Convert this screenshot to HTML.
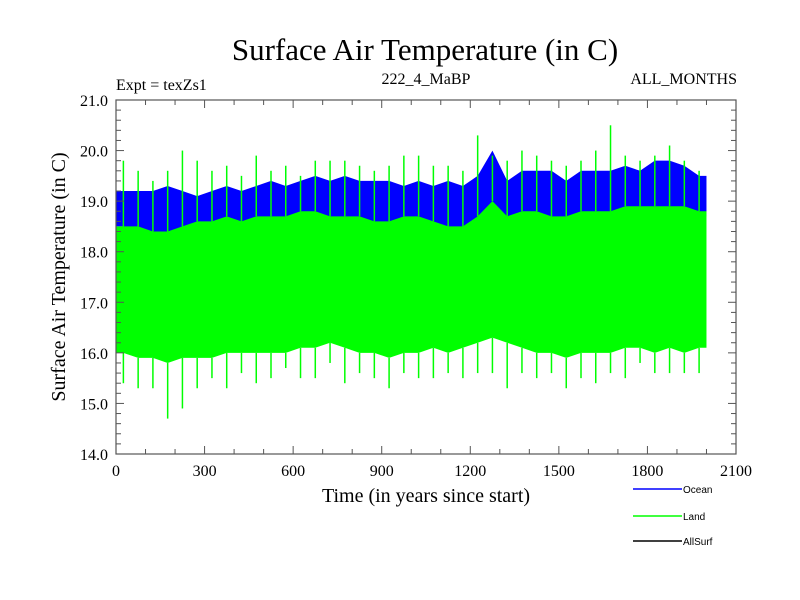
<!DOCTYPE html>
<html><head><meta charset="utf-8"><style>
body{margin:0;background:#fff}
svg{display:block}
.s{font-family:"Liberation Serif",serif}
.a{font-family:"Liberation Sans",sans-serif}
</style></head><body>
<svg id="c" width="800" height="600" xmlns="http://www.w3.org/2000/svg">
<rect width="800" height="600" fill="#fff"/>
<text class="s" x="425" y="60" font-size="31" text-anchor="middle">Surface Air Temperature (in C)</text>
<text class="s" x="116" y="90" font-size="16">Expt = texZs1</text>
<text class="s" x="426" y="84" font-size="16" text-anchor="middle">222_4_MaBP</text>
<text class="s" x="737" y="84" font-size="16" text-anchor="end">ALL_MONTHS</text>
<text class="s" font-size="20" text-anchor="middle" transform="translate(65,277) rotate(-90)">Surface Air Temperature (in C)</text>
<text class="s" x="426" y="502" font-size="20" text-anchor="middle">Time (in years since start)</text>
<g id="plot"></g>
<g id="axes"></g>
<g>
<line x1="633" y1="489" x2="682" y2="489" stroke="#0000ff" stroke-width="1.5"/>
<text class="a" x="683" y="493" font-size="10">Ocean</text>
<line x1="633" y1="516" x2="682" y2="516" stroke="#00ff00" stroke-width="1.5"/>
<text class="a" x="683" y="520" font-size="10">Land</text>
<line x1="633" y1="541" x2="682" y2="541" stroke="#000" stroke-width="1.5"/>
<text class="a" x="683" y="545" font-size="10">AllSurf</text>
</g>
</svg>
<script>
const binYears=[0,50,100,150,200,250,300,350,400,450,500,550,600,650,700,750,800,850,900,950,1000,1050,1100,1150,1200,1250,1300,1350,1400,1450,1500,1550,1600,1650,1700,1750,1800,1850,1900,1950];
const oceanHi=[19.2,19.2,19.2,19.3,19.2,19.1,19.2,19.3,19.2,19.3,19.4,19.3,19.4,19.5,19.4,19.5,19.4,19.4,19.4,19.3,19.4,19.3,19.4,19.3,19.5,20.0,19.4,19.6,19.6,19.6,19.4,19.6,19.6,19.6,19.7,19.6,19.8,19.8,19.7,19.5];
const oceanLo=[18.5,18.3,18.3,18.4,18.3,18.5,18.5,18.6,18.5,18.6,18.6,18.6,18.6,18.7,18.6,18.6,18.6,18.5,18.5,18.5,18.5,18.5,18.4,18.3,18.6,18.8,18.6,18.7,18.7,18.6,18.6,18.7,18.7,18.7,18.8,18.8,18.8,18.8,18.8,18.7];
const landHi=[18.5,18.5,18.4,18.4,18.5,18.6,18.6,18.7,18.6,18.7,18.7,18.7,18.8,18.8,18.7,18.7,18.7,18.6,18.6,18.7,18.7,18.6,18.5,18.5,18.7,19.0,18.7,18.8,18.8,18.7,18.7,18.8,18.8,18.8,18.9,18.9,18.9,18.9,18.9,18.8];
const landLo=[16.0,15.9,15.9,15.8,15.9,15.9,15.9,16.0,16.0,16.0,16.0,16.0,16.1,16.1,16.2,16.1,16.0,16.0,15.9,16.0,16.0,16.1,16.0,16.1,16.2,16.3,16.2,16.1,16.0,16.0,15.9,16.0,16.0,16.0,16.1,16.1,16.0,16.1,16.0,16.1];
const landMax=[19.8,19.6,19.4,19.6,20.0,19.8,19.6,19.7,19.5,19.9,19.6,19.7,19.5,19.8,19.8,19.8,19.7,19.6,19.7,19.9,19.9,19.7,19.7,19.6,20.3,19.9,19.8,20.0,19.9,19.8,19.7,19.8,20.0,20.5,19.9,19.8,19.9,20.1,19.8,19.6];
const landMin=[15.4,15.3,15.3,14.7,14.9,15.3,15.5,15.3,15.6,15.4,15.5,15.7,15.5,15.5,15.8,15.4,15.6,15.5,15.3,15.6,15.5,15.5,15.6,15.5,15.6,15.6,15.3,15.6,15.5,15.6,15.3,15.5,15.4,15.6,15.5,15.8,15.6,15.6,15.6,15.6];
const yTicks=[14,15,16,17,18,19,20,21];
const xTicks=[0,300,600,900,1200,1500,1800,2100];
const lastYear=2000;
const X=v=>116+v*620/2100, Y=v=>454-(v-14)*354/7;
const NS="http://www.w3.org/2000/svg";
const plot=document.getElementById('plot'), axes=document.getElementById('axes');
function mk(tag,attrs,parent){const e=document.createElementNS(NS,tag);for(const k in attrs)e.setAttribute(k,attrs[k]);parent.appendChild(e);return e;}
function band(hi,lo,color,name){
  const n=hi.length;
  const cx=i=>X(Math.min(binYears[i]+25,lastYear));
  let pts=[X(0)+','+Y(hi[0])];
  hi.forEach((v,i)=>pts.push(cx(i)+','+Y(v)));
  pts.push(X(lastYear)+','+Y(hi[n-1]),X(lastYear)+','+Y(lo[n-1]));
  for(let i=n-1;i>=0;i--)pts.push(cx(i)+','+Y(lo[i]));
  pts.push(X(0)+','+Y(lo[0]));
  const p=mk('polygon',{points:pts.join(' '),fill:color},plot);
  
  
}
band(oceanHi,oceanLo,'#0000ff','ocean-series');
band(landHi,landLo,'#00ff00','land-series');
landMax.forEach((v,i)=>{
  const x=X(binYears[i]+25);
  const l=mk('line',{x1:x,x2:x,y1:Y(v),y2:Y(landHi[i]),stroke:'#00ff00','stroke-width':1.5},plot);
  
  
  const m=mk('line',{x1:x,x2:x,y1:Y(landLo[i]),y2:Y(landMin[i]),stroke:'#00ff00','stroke-width':1.5},plot);
  
  
});
const fr=mk('rect',{x:116,y:100,width:620,height:354,fill:'none',stroke:'#555','stroke-width':1.2},axes);


for(let v=0;v<=2100;v+=100){const x=X(v),L=v%300===0?8:5;
  mk('line',{x1:x,x2:x,y1:454,y2:454-L,stroke:'#555'},axes);mk('line',{x1:x,x2:x,y1:100,y2:100+L,stroke:'#555'},axes);}
for(let k=0;k<=35;k++){const v=14+k*0.2,y=Y(v),L=k%5===0?8:5;
  mk('line',{x1:116,x2:116+L,y1:y,y2:y,stroke:'#555'},axes);mk('line',{x1:736,x2:736-L,y1:y,y2:y,stroke:'#555'},axes);}
yTicks.forEach(v=>{const t=mk('text',{x:108,y:Y(v)+6,'font-size':16,'text-anchor':'end','class':'s'},axes);t.textContent=v.toFixed(1);
  
  });
xTicks.forEach(v=>{const t=mk('text',{x:X(v),y:476,'font-size':16,'text-anchor':'middle','class':'s'},axes);t.textContent=v;
  
  });
</script>
</body></html>
